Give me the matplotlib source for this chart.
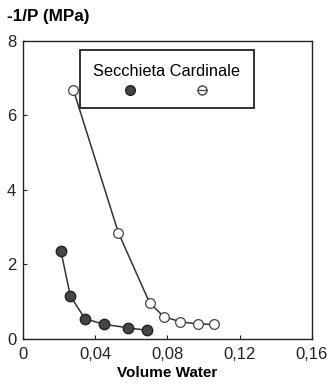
import matplotlib
matplotlib.use('Agg')
import matplotlib.pyplot as plt
from matplotlib.patches import Rectangle
import matplotlib.ticker as mticker

plt.rcParams.update({
    'font.family': 'sans-serif',
    'font.sans-serif': ['Liberation Sans', 'DejaVu Sans'],
    'font.size': 12,
})

# ===================== DATA =====================
secchieta_x = [0.0209, 0.0262, 0.0343, 0.0450, 0.0580, 0.0687]
secchieta_y = [2.37, 1.15, 0.54, 0.39, 0.30, 0.23]

cardinale_x = [0.0279, 0.0528, 0.0701, 0.0779, 0.0871, 0.0969, 0.1060]
cardinale_y = [6.68, 2.85, 0.97, 0.60, 0.46, 0.40, 0.39]

x_ticks = [0, 0.04, 0.08, 0.12, 0.16]
y_ticks = [0, 2, 4, 6, 8]

# ===================== PLOT =====================
fig = plt.figure(figsize=(3.3, 3.86), dpi=100)
ax = fig.add_axes([0.07, 0.122, 0.875, 0.772])

line_c = '#333333'
ax.plot(secchieta_x, secchieta_y, '-', color=line_c, lw=1.1, zorder=2)
ax.plot(secchieta_x, secchieta_y, 'o', ms=7.5, mfc='#454545', mec='#222222', mew=1, zorder=3)
ax.plot(cardinale_x, cardinale_y, '-', color=line_c, lw=1.1, zorder=2)
ax.plot(cardinale_x, cardinale_y, 'o', ms=7, mfc='white', mec='#444444', mew=0.9, zorder=3)

ax.set_xlim(0, 0.16)
ax.set_ylim(0, 8)
ax.set_xticks(x_ticks)
ax.set_yticks(y_ticks)
ax.xaxis.set_major_formatter(mticker.FuncFormatter(
    lambda v, p: '0' if v == 0 else f'{v:.2f}'.replace('.', ',')))
ax.tick_params(direction='in', length=3, width=0.8, labelsize=12, colors='#222222')
ax.tick_params(axis='x', pad=6)
ax.tick_params(axis='y', pad=5)
for s in ax.spines.values():
    s.set_linewidth(1.0)
    s.set_color('#222222')

ax.set_xlabel('Volume Water', fontsize=11, fontweight='bold', va='top')
ax.xaxis.set_label_coords(0.5, -0.09)
fig.text(0.02, 0.957, '-1/P (MPa)', fontsize=12.3, fontweight='bold', ha='left', va='center')

# legend box drawn by hand
ax.add_patch(Rectangle((0.197, 0.775), 0.602, 0.195, transform=ax.transAxes,
                       fill=False, lw=1.3, ec='#222222', zorder=4))
ax.text(0.498, 0.896, 'Secchieta Cardinale', transform=ax.transAxes,
        ha='center', va='center', fontsize=11.8)
ax.plot([0.37], [0.836], 'o', transform=ax.transAxes, ms=7,
        mfc='#454545', mec='#222222', zorder=5)
ax.plot([0.618], [0.836], 'o', transform=ax.transAxes, ms=6.5,
        mfc='white', mec='#444444', zorder=5)
ax.plot([0.618], [0.836], '_', transform=ax.transAxes, ms=6.5,
        mec='#444444', mew=0.9, zorder=6)

fig.savefig('out.png', dpi=100)
